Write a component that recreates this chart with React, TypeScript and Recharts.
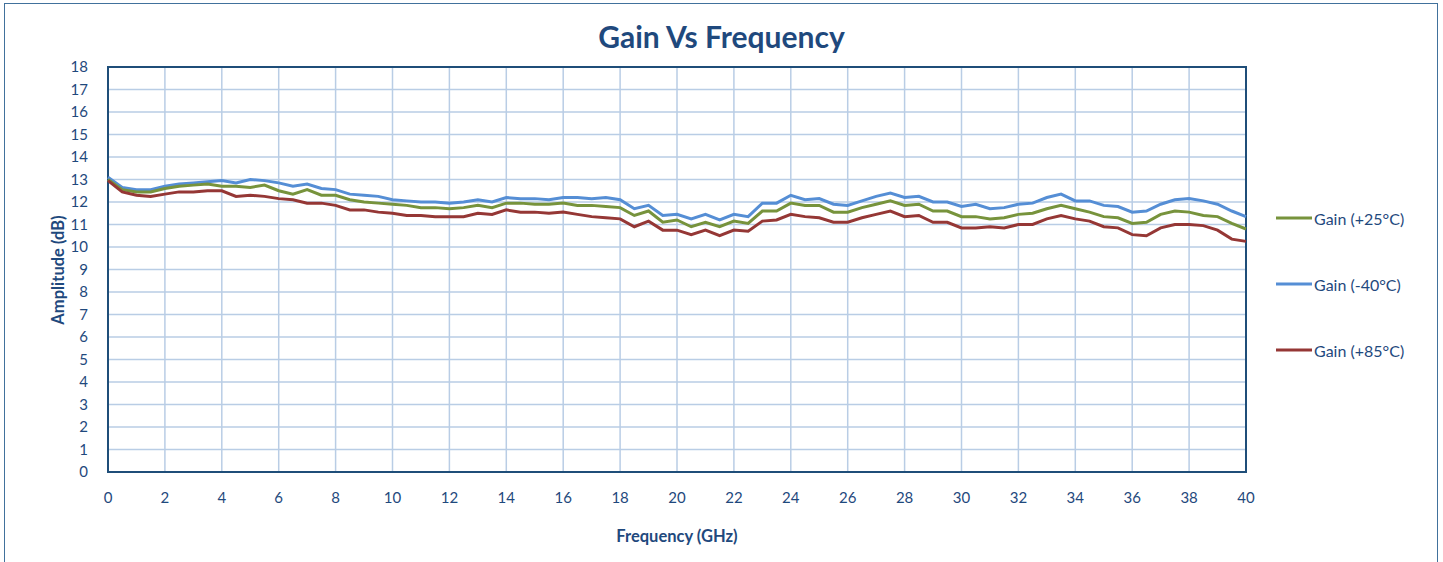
import React from 'react';
import { LineChart, Line, XAxis, YAxis, CartesianGrid, ReferenceArea, Legend } from 'recharts';

const freqGHz = [
  0, 0.5, 1, 1.5, 2, 2.5, 3, 3.5, 4, 4.5, 5, 5.5, 6, 6.5, 7, 7.5, 8, 8.5, 9, 9.5,
  10, 10.5, 11, 11.5, 12, 12.5, 13, 13.5, 14, 14.5, 15, 15.5, 16, 16.5, 17, 17.5, 18, 18.5, 19, 19.5,
  20, 20.5, 21, 21.5, 22, 22.5, 23, 23.5, 24, 24.5, 25, 25.5, 26, 26.5, 27, 27.5, 28, 28.5, 29, 29.5,
  30, 30.5, 31, 31.5, 32, 32.5, 33, 33.5, 34, 34.5, 35, 35.5, 36, 36.5, 37, 37.5, 38, 38.5, 39, 39.5, 40,
];

const gain25 = [
  13.0, 12.55, 12.45, 12.45, 12.6, 12.7, 12.75, 12.8, 12.7, 12.7, 12.65, 12.75, 12.5, 12.35, 12.55, 12.3, 12.3, 12.1, 12.0, 11.95,
  11.9, 11.85, 11.75, 11.75, 11.7, 11.75, 11.85, 11.75, 11.95, 11.95, 11.9, 11.9, 11.95, 11.85, 11.85, 11.8, 11.75, 11.4, 11.6, 11.1,
  11.2, 10.9, 11.1, 10.9, 11.15, 11.05, 11.6, 11.6, 11.95, 11.85, 11.85, 11.55, 11.55, 11.75, 11.9, 12.05, 11.85, 11.9, 11.6, 11.6,
  11.35, 11.35, 11.25, 11.3, 11.45, 11.5, 11.7, 11.85, 11.7, 11.55, 11.35, 11.3, 11.05, 11.1, 11.45, 11.6, 11.55, 11.4, 11.35, 11.05, 10.8,
];

const gainM40 = [
  13.1, 12.65, 12.55, 12.55, 12.7, 12.8, 12.85, 12.9, 12.95, 12.85, 13.0, 12.95, 12.85, 12.7, 12.8, 12.6, 12.55, 12.35, 12.3, 12.25,
  12.1, 12.05, 12.0, 12.0, 11.95, 12.0, 12.1, 12.0, 12.2, 12.15, 12.15, 12.1, 12.2, 12.2, 12.15, 12.2, 12.1, 11.7, 11.85, 11.4,
  11.45, 11.25, 11.45, 11.2, 11.45, 11.35, 11.95, 11.95, 12.3, 12.1, 12.15, 11.9, 11.85, 12.05, 12.25, 12.4, 12.2, 12.25, 12.0, 12.0,
  11.8, 11.9, 11.7, 11.75, 11.9, 11.95, 12.2, 12.35, 12.05, 12.05, 11.85, 11.8, 11.55, 11.6, 11.9, 12.1, 12.15, 12.05, 11.9, 11.6, 11.35,
];

const gain85 = [
  12.95, 12.45, 12.3, 12.25, 12.35, 12.45, 12.45, 12.5, 12.5, 12.25, 12.3, 12.25, 12.15, 12.1, 11.95, 11.95, 11.85, 11.65, 11.65, 11.55,
  11.5, 11.4, 11.4, 11.35, 11.35, 11.35, 11.5, 11.45, 11.65, 11.55, 11.55, 11.5, 11.55, 11.45, 11.35, 11.3, 11.25, 10.9, 11.15, 10.75,
  10.75, 10.55, 10.75, 10.5, 10.75, 10.7, 11.15, 11.2, 11.45, 11.35, 11.3, 11.1, 11.1, 11.3, 11.45, 11.6, 11.35, 11.4, 11.1, 11.1,
  10.85, 10.85, 10.9, 10.85, 11.0, 11.0, 11.25, 11.4, 11.25, 11.15, 10.9, 10.85, 10.55, 10.5, 10.85, 11.0, 11.0, 10.95, 10.75, 10.35, 10.25,
];

const xTicks = [0, 2, 4, 6, 8, 10, 12, 14, 16, 18, 20, 22, 24, 26, 28, 30, 32, 34, 36, 38, 40];
const yTicks = [0, 1, 2, 3, 4, 5, 6, 7, 8, 9, 10, 11, 12, 13, 14, 15, 16, 17, 18];

const data = freqGHz.map((f, i) => ({
  f,
  g25: gain25[i],
  gm40: gainM40[i],
  g85: gain85[i],
}));

const FONT = 'Lato, "Open Sans", sans-serif';
const TEXT = '#1F497D';

const legendItems = [
  { name: 'Gain (+25°C)', color: '#77933C' },
  { name: 'Gain (-40°C)', color: '#558ED5' },
  { name: 'Gain (+85°C)', color: '#953735' },
];

const ChartLegend = () => (
  <div style={{ fontFamily: FONT, fontSize: 16, color: TEXT }}>
    {legendItems.map((it) => (
      <div key={it.name} style={{ display: 'flex', alignItems: 'center', height: 20, marginBottom: 46 }}>
        <svg width={38} height={6} style={{ marginRight: 0 }}>
          <line x1={0} y1={3} x2={36} y2={3} stroke={it.color} strokeWidth={3} />
        </svg>
        <span>{it.name}</span>
      </div>
    ))}
  </div>
);

export default function App() {
  return (
    <div style={{ position: 'absolute', left: 0, top: 0, width: 1443, height: 562, overflow: 'hidden', background: '#fff' }}>
      <div style={{ position: 'absolute', left: 4, top: 3, width: 1432, height: 600, border: '1px solid #41719C' }} />
      <div
        style={{
          position: 'absolute', left: 0, width: 1443, top: 18, textAlign: 'center',
          fontFamily: FONT, fontWeight: 700, fontSize: 30, color: TEXT,
        }}
      >
        Gain Vs Frequency
      </div>
      <div
        style={{
          position: 'absolute', left: 108, width: 1138, top: 526, textAlign: 'center',
          fontFamily: FONT, fontWeight: 700, fontSize: 16.5, color: TEXT,
        }}
      >
        Frequency (GHz)
      </div>
      <div
        style={{
          position: 'absolute', left: 58, top: 270, transform: 'translate(-50%, -50%) rotate(-90deg)',
          whiteSpace: 'nowrap', fontFamily: FONT, fontWeight: 700, fontSize: 16.5, color: TEXT,
        }}
      >
        Amplitude (dB)
      </div>
      <div style={{ position: 'absolute', left: 0, top: 0 }}>
        <LineChart width={1443} height={562} data={data} margin={{ top: 67, right: 197, left: 60, bottom: 60 }}>
          <CartesianGrid stroke="#B9CDE5" strokeWidth={1.5} />
          <XAxis
            dataKey="f"
            type="number"
            domain={[0, 40]}
            ticks={xTicks}
            interval={0}
            height={30}
            axisLine={false}
            tickLine={false}
            tickMargin={14}
            tick={{ fill: TEXT, fontSize: 15, fontFamily: FONT }}
          />
          <YAxis
            type="number"
            domain={[0, 18]}
            ticks={yTicks}
            interval={0}
            width={48}
            axisLine={false}
            tickLine={false}
            tickMargin={14}
            tick={{ fill: TEXT, fontSize: 15, fontFamily: FONT }}
          />
          <Line dataKey="gm40" name="Gain (-40°C)" stroke="#558ED5" strokeWidth={3} dot={false} isAnimationActive={false} />
          <Line dataKey="g25" name="Gain (+25°C)" stroke="#77933C" strokeWidth={3} dot={false} isAnimationActive={false} />
          <Line dataKey="g85" name="Gain (+85°C)" stroke="#953735" strokeWidth={3} dot={false} isAnimationActive={false} />
          <ReferenceArea x1={0} x2={40} y1={0} y2={18} fill="none" stroke="#1F4E79" strokeWidth={2} />
          <Legend
            layout="vertical"
            align="center"
            verticalAlign="middle"
            content={<ChartLegend />}
            wrapperStyle={{ left: 1276, top: 208, width: 165 }}
          />
        </LineChart>
      </div>
    </div>
  );
}
